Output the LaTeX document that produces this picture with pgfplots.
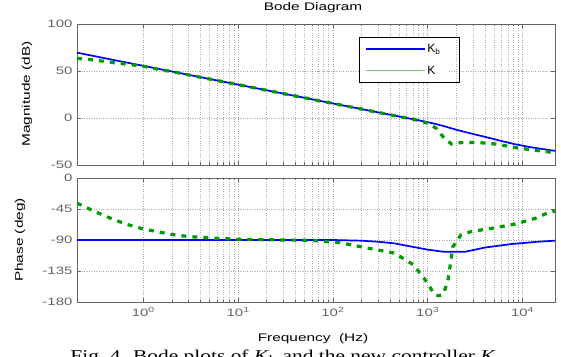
\documentclass[border=0pt]{standalone}
\usepackage{fontspec}
\setmainfont{Liberation Sans}
\newfontfamily\wide{Liberation Sans}[FakeStretch=1.4]
\newfontfamily\timesfont{Liberation Serif}[FakeStretch=1.3]
\usepackage{pgfplots}
\pgfplotsset{compat=1.18}
\definecolor{kgreen}{RGB}{0,155,0}
\definecolor{kgreenlight}{RGB}{120,200,120}
\definecolor{tickgray}{RGB}{100,100,100}
\pgfplotsset{
  bodestyle/.style={
    scale only axis, width=478pt, anchor=south west,
    xmin=0.2, xmax=2.2e4,
    axis line style={tickgray, line width=0.9pt},
    tick style={tickgray, line width=0.5pt},
    tick align=inside, xtick pos=both, ytick pos=both,
    major tick length=4pt, minor tick length=2.5pt,
    xmajorgrids, xminorgrids, ymajorgrids,
    major grid style={black!35, dotted, line width=0.5pt},
    minor grid style={black!30, dotted, line width=0.5pt},
    ticklabel style={font=\wide\fontsize{10.7}{12}\selectfont, text=tickgray},
    yticklabel style={/pgf/number format/assume math mode=true, xshift=-1pt},
    xticklabel style={yshift=-2pt},
    xtick={1,10,100,1000,10000},
  }
}
\begin{document}
\begin{tikzpicture}[x=1pt,y=1pt]
\useasboundingbox (0,0) rectangle (561,356);
% magnitude
\begin{semilogxaxis}[bodestyle, at={(77pt,191pt)}, height=141pt,
  ymin=-50, ymax=100, ytick={-50,0,50,100},
  xticklabels={},
  legend style={at={(0.59,0.908)}, anchor=north west, draw=none, fill=white,
    font=\fontsize{12}{14}\selectfont, inner xsep=6pt, inner ysep=5pt, row sep=8pt,
    legend cell align=left},
]
\addplot[draw=blue, line width=1.7pt,
  legend image code/.code={\draw[blue, line width=1.2pt] (0pt,0pt) -- (59pt,0pt);}] coordinates {
(0.2,69.5) (0.5,61.5) (1,55.5) (2,49.5) (5,41.5) (10,35.5) (20,29.5) (50,21.5)
(100,15.5) (200,9.5) (500,1.6) (800,-2.4) (1200,-6.2) (1500,-8.8) (2000,-12.5) (3000,-17)
(4200,-20.5) (6000,-24.5) (8000,-27.5) (12000,-31) (22000,-35)};
\addlegendentry{K\textsubscript{b}}
\addplot[draw=kgreen, line width=3.2pt, dash pattern=on 5pt off 6pt,
  legend image code/.code={\draw[kgreenlight, line width=0.8pt, solid] (0pt,0pt) -- (59pt,0pt);}] coordinates {
(0.2,63.5) (0.3,61.8) (0.5,58.7) (0.7,57) (1,55) (1.5,51.5) (2,49.3) (5,41.5)
(10,35.5) (20,29.5) (50,21.5) (100,15.5) (200,9.5) (500,1.5) (700,-1.2)
(1000,-5.5) (1230,-11) (1450,-20) (1780,-27.7) (2000,-27.5) (2240,-26)
(3500,-26.2) (5250,-27.7) (8500,-31.6) (15000,-34.8) (22000,-37)};
\addlegendentry{K}
\end{semilogxaxis}
\draw[black, line width=0.9pt] (359,274) rectangle (459,319);
% phase
\begin{semilogxaxis}[bodestyle, at={(77pt,54pt)}, height=124pt,
  ymin=-180, ymax=0, ytick={-180,-135,-90,-45,0},
  xticklabels={10\textsuperscript{0},10\textsuperscript{1},10\textsuperscript{2},10\textsuperscript{3},10\textsuperscript{4}},
]
\addplot[draw=blue, line width=1.7pt] coordinates {
(0.2,-90) (100,-90) (200,-91) (300,-92.5) (450,-95) (700,-100) (1000,-104)
(1450,-107) (2500,-107) (4000,-101) (7500,-96) (14500,-92.5) (22000,-91)};
\addplot[draw=kgreen, line width=3.2pt, dash pattern=on 5pt off 6pt] coordinates {
(0.2,-36.5) (0.3,-48) (0.5,-61) (0.7,-68) (1,-74) (2,-82) (3,-85) (5,-87)
(10,-89) (30,-90) (60,-90.5) (118,-93.8) (209,-100.6) (447,-109) (708,-126)
(930,-147) (1050,-158) (1175,-169) (1300,-171) (1450,-169) (1630,-150)
(1700,-133) (1840,-100) (2240,-82.6) (2870,-77.8) (5260,-72) (8500,-66.6)
(13800,-58.3) (18200,-51) (22000,-48)};
\end{semilogxaxis}
\node[font=\wide\fontsize{11}{13}\selectfont] at (313,348) {Bode Diagram};
\node[rotate=90, font=\wide\fontsize{11}{13}\selectfont] at (27,262) {Magnitude (dB)};
\node[rotate=90, font=\wide\fontsize{11}{13}\selectfont] at (20,116) {Phase (deg)};
\node[font=\wide\fontsize{11}{13}\selectfont] at (313,17) {Frequency\ \ (Hz)};
\node[font=\timesfont\fontsize{16.5}{20}\selectfont, anchor=base] at (283,-5) {Fig.~4. Bode plots of \textit{K}\textsubscript{b} and the new controller \textit{K}};
\end{tikzpicture}
\end{document}
